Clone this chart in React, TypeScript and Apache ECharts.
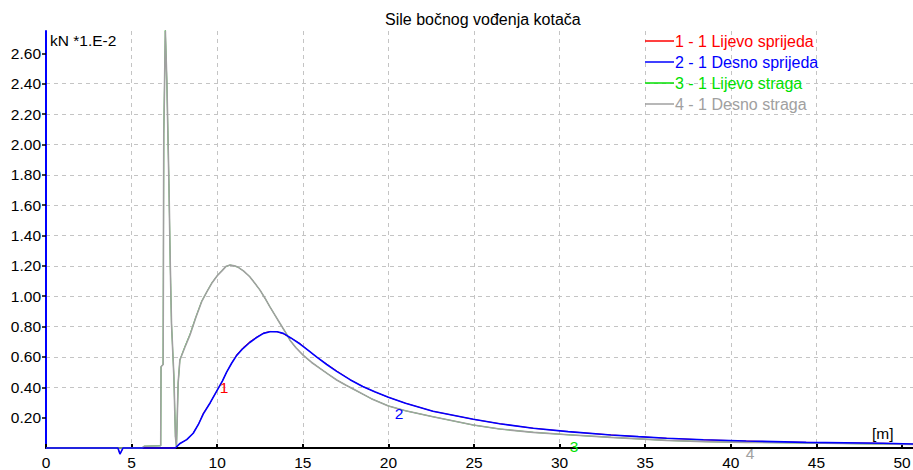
import React, { useEffect, useRef } from "react";
import * as echarts from "echarts";

const FONT = "'Liberation Sans', Arial, sans-serif";

const chartTitle = "Sile bočnog vođenja kotača";
const yUnit = "kN *1.E-2";
const xUnit = "[m]";

const seriesNames = [
  "1 - 1 Lijevo sprijeda",
  "2 - 1 Desno sprijeda",
  "3 - 1 Lijevo straga",
  "4 - 1 Desno straga",
];
const seriesColors = ["#ff0000", "#0000ff", "#00e000", "#a0a0a0"];
const curveTags = ["1", "2", "3", "4"];
const curveTagAt: [number, number][] = [
  [10.4, 0.4],
  [20.62, 0.23],
  [30.84, 0.009],
  [41.12, 0],
];
const curveTagShift: [number, number][] = [
  [0, 0],
  [0, 0],
  [0, 0],
  [0, 5],
];

const xTickValues = [0, 5, 10, 15, 20, 25, 30, 35, 40, 45, 50];
const yTickValues = [0.2, 0.4, 0.6, 0.8, 1.0, 1.2, 1.4, 1.6, 1.8, 2.0, 2.2, 2.4, 2.6];
const xMax = 50.64;
const yMax = 2.747;

const frontLeft: [number, number][] = [
  [0, 0], [4.2, 0], [4.32, -0.04], [4.5, 0], [7.55, 0], [7.83, 0.03], [8.22, 0.055],
  [8.6, 0.1], [8.9, 0.155], [9.19, 0.23], [9.6, 0.3], [9.97, 0.375], [10.3, 0.44],
  [10.55, 0.5], [10.85, 0.56], [11.14, 0.615], [11.5, 0.66], [11.9, 0.7], [12.3, 0.73],
  [12.7, 0.757], [13.08, 0.768], [13.5, 0.766], [13.86, 0.752], [14.3, 0.725],
  [14.84, 0.688], [15.3, 0.645], [15.8, 0.6], [16.4, 0.552], [16.98, 0.508], [17.76, 0.45],
  [18.5, 0.405], [19.2, 0.37], [20, 0.334], [21, 0.295], [22.6, 0.242], [24.96, 0.189],
  [26.5, 0.16], [28.46, 0.13], [30.5, 0.108], [33, 0.086], [34.6, 0.075], [36.25, 0.064],
  [38.4, 0.054], [40.9, 0.046], [44.4, 0.037], [48.9, 0.031], [50.64, 0.026],
];

const frontRight: [number, number][] = [
  [0, 0], [4.2, 0], [4.32, -0.04], [4.5, 0], [7.55, 0], [7.83, 0.03], [8.22, 0.055],
  [8.6, 0.097], [8.9, 0.155], [9.19, 0.225], [9.6, 0.3], [9.97, 0.375], [10.3, 0.44],
  [10.55, 0.5], [10.85, 0.56], [11.14, 0.61], [11.5, 0.655], [11.9, 0.695], [12.3, 0.728],
  [12.7, 0.755], [13.08, 0.766], [13.5, 0.766], [13.86, 0.755], [14.3, 0.725],
  [14.84, 0.685], [15.3, 0.645], [15.8, 0.6], [16.4, 0.55], [16.98, 0.505], [17.76, 0.45],
  [18.5, 0.405], [19.2, 0.37], [20, 0.334], [21, 0.295], [22.6, 0.242], [24.96, 0.189],
  [26.5, 0.16], [28.46, 0.13], [30.5, 0.108], [33, 0.086], [34.6, 0.075], [36.25, 0.064],
  [38.4, 0.054], [40.9, 0.046], [44.4, 0.037], [48.9, 0.031], [50.64, 0.026],
];

const rearLeft: [number, number][] = [
  [0, 0], [5.6, 0], [5.75, 0.012], [6.7, 0.015], [6.72, 0.535], [6.84, 0.55], [6.88, 2.07],
  [6.97, 2.75], [7.06, 2.41], [7.18, 1.74], [7.26, 1.2], [7.33, 0.82], [7.47, 0.47],
  [7.56, 0.075], [7.62, 0.01], [7.72, 0.43], [7.82, 0.58], [8.1, 0.665], [8.41, 0.75],
  [8.75, 0.862], [9.09, 0.966], [9.4, 1.03], [9.68, 1.087], [10, 1.135], [10.26, 1.166],
  [10.5, 1.195], [10.75, 1.205], [11, 1.2], [11.23, 1.19], [11.55, 1.165], [11.9, 1.13],
  [12.2, 1.085], [12.5, 1.04], [12.8, 0.985], [13.08, 0.93], [13.4, 0.87], [13.67, 0.82],
  [14, 0.76], [14.25, 0.71], [14.6, 0.66], [15.03, 0.61], [15.5, 0.565], [16, 0.525],
  [16.5, 0.485], [16.98, 0.448], [17.5, 0.415], [18, 0.385], [19, 0.325], [20, 0.277],
  [21, 0.245], [22.6, 0.206], [24.96, 0.151], [26.5, 0.125], [28.46, 0.103], [30.5, 0.087],
  [33, 0.07], [36.25, 0.05], [38.5, 0.042], [40.9, 0.037], [44.4, 0.033], [47.5, 0.028],
  [50.64, 0.024],
];

const rearRight: [number, number][] = [
  [0, 0], [5.6, 0], [5.75, 0.012], [6.7, 0.015], [6.72, 0.535], [6.84, 0.55], [6.88, 2.07],
  [6.97, 2.75], [7.06, 2.41], [7.18, 1.74], [7.26, 1.2], [7.33, 0.82], [7.47, 0.47],
  [7.56, 0.075], [7.62, 0.01], [7.72, 0.43], [7.82, 0.58], [8.1, 0.66], [8.41, 0.745],
  [8.75, 0.86], [9.09, 0.964], [9.4, 1.03], [9.68, 1.085], [10, 1.135], [10.26, 1.165],
  [10.5, 1.195], [10.75, 1.205], [11, 1.2], [11.23, 1.19], [11.55, 1.165], [11.9, 1.128],
  [12.2, 1.085], [12.5, 1.04], [12.8, 0.985], [13.08, 0.93], [13.4, 0.87], [13.67, 0.82],
  [14, 0.76], [14.25, 0.71], [14.6, 0.66], [15.03, 0.61], [15.5, 0.565], [16, 0.525],
  [16.5, 0.485], [16.98, 0.448], [17.5, 0.415], [18, 0.385], [19, 0.325], [20, 0.277],
  [21, 0.245], [22.6, 0.206], [24.96, 0.151], [26.5, 0.125], [28.46, 0.103], [30.5, 0.087],
  [33, 0.07], [36.25, 0.05], [38.5, 0.042], [40.9, 0.037], [44.4, 0.033], [47.5, 0.028],
  [50.64, 0.024],
];

const seriesData = [frontLeft, frontRight, rearLeft, rearRight];
const seriesZ = [1, 4, 2, 3];
const seriesWidth = [0.9, 1.6, 0.9, 1.6];

export default function App() {
  const ref = useRef<HTMLDivElement>(null);

  useEffect(() => {
    if (!ref.current) return;
    const chart = echarts.init(ref.current, null, { renderer: "svg" });
    const dashed = { color: "#c4c4c4", type: [4, 4] as any, width: 1 };

    const option: any = {
      animation: false,
      backgroundColor: "#ffffff",
      textStyle: { fontFamily: FONT },
      grid: {
        left: 46,
        right: 0,
        top: 31,
        bottom: 22,
        containLabel: false,
        outerBoundsMode: "none",
      },
      legend: {
        orient: "vertical",
        left: 645,
        top: 33,
        padding: 0,
        itemGap: 5,
        itemWidth: 29,
        itemHeight: 1.5,
        icon: "rect",
        selectedMode: false,
        textStyle: { fontSize: 16, fontFamily: FONT, lineHeight: 15, padding: [0, 0, 0, -4] },
        data: seriesNames.map((n, i) => ({
          name: n,
          itemStyle: { color: seriesColors[i] },
          textStyle: { color: seriesColors[i] },
        })),
      },
      graphic: [
        {
          type: "text",
          x: 385,
          y: 19,
          style: { text: chartTitle, font: `16px ${FONT}`, fill: "#000", textVerticalAlign: "middle" },
        },
        {
          type: "text",
          x: 50,
          y: 40,
          z: 10,
          style: { text: yUnit, font: `15.5px ${FONT}`, fill: "#000", textVerticalAlign: "middle" },
        },
        {
          type: "text",
          x: 872,
          y: 433,
          z: 10,
          style: { text: xUnit, font: `15.5px ${FONT}`, fill: "#000", textVerticalAlign: "middle" },
        },
      ],
      xAxis: {
        type: "value",
        min: 0,
        max: xMax,
        interval: 1,
        axisLine: { onZero: false, lineStyle: { color: "#000", width: 2 } },
        axisTick: {
          show: true,
          inside: true,
          length: 4,
          customValues: xTickValues,
          lineStyle: { color: "#000", width: 2 },
        },
        axisLabel: {
          customValues: xTickValues,
          fontSize: 15.5,
          fontFamily: FONT,
          color: "#000",
          margin: 6,
          formatter: (v: number) => String(v),
        },
        splitLine: { show: true, showMinLine: false, showMaxLine: false, lineStyle: dashed },
      },
      yAxis: {
        type: "value",
        min: 0,
        max: yMax,
        interval: 0.2,
        axisLine: { show: true, lineStyle: { color: "#0000ff", width: 2 } },
        axisTick: {
          show: true,
          inside: false,
          length: 4,
          customValues: yTickValues,
          lineStyle: { color: "#000", width: 1.5 },
        },
        axisLabel: {
          customValues: yTickValues,
          fontSize: 15.5,
          fontFamily: FONT,
          color: "#000",
          margin: 5,
          formatter: (v: number) => v.toFixed(2),
        },
        splitLine: { show: true, showMinLine: false, showMaxLine: false, lineStyle: dashed },
      },
      series: seriesNames.map((name, i) => ({
        type: "line",
        name,
        data: seriesData[i],
        showSymbol: false,
        symbol: "none",
        clip: false,
        z: seriesZ[i],
        color: seriesColors[i],
        lineStyle: { color: seriesColors[i], width: seriesWidth[i] },
        markPoint: {
          symbol: "circle",
          symbolSize: 0,
          silent: true,
          label: {
            show: true,
            position: "inside",
            offset: curveTagShift[i],
            formatter: curveTags[i],
            color: seriesColors[i],
            fontSize: 15.5,
            fontFamily: FONT,
          },
          data: [{ coord: curveTagAt[i], value: curveTags[i] }],
        },
      })),
    };

    chart.setOption(option);
    return () => chart.dispose();
  }, []);

  return (
    <div
      ref={ref}
      style={{ position: "fixed", left: 0, top: 0, width: 913, height: 470, background: "#fff" }}
    />
  );
}
